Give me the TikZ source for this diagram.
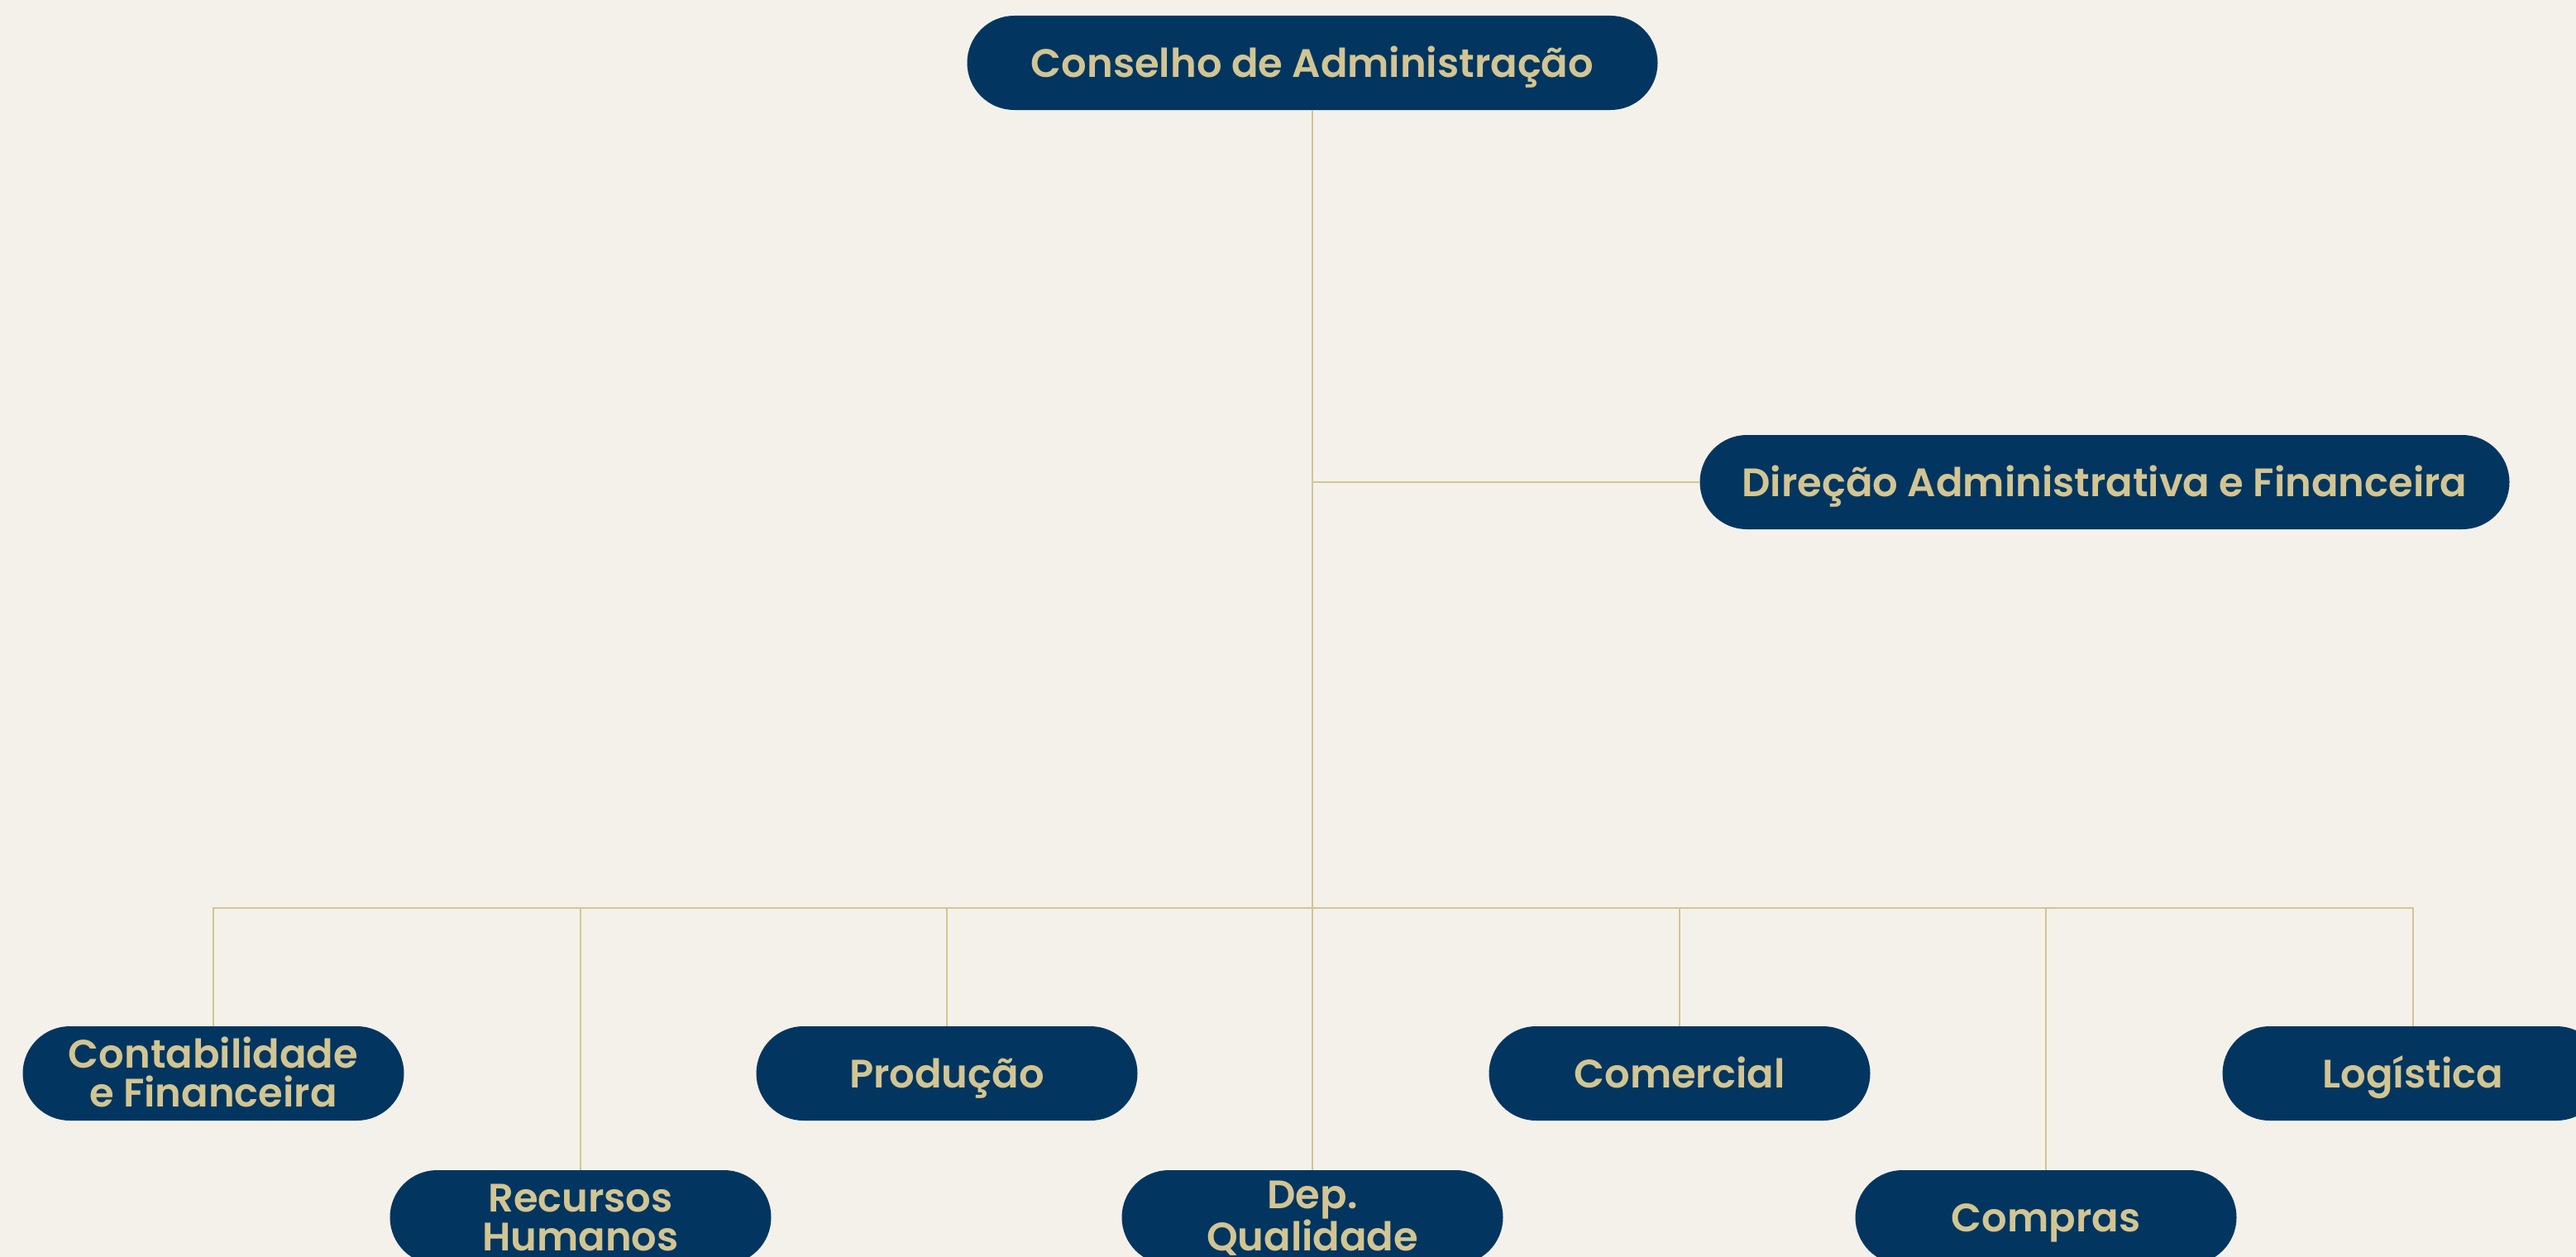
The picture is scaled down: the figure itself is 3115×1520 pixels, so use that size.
\documentclass[tikz,border=0pt]{standalone}
\usepackage{fontspec}
\setmainfont{Poppins}[UprightFont=* SemiBold, BoldFont=* Bold]
\definecolor{bg}{HTML}{F4F1EA}
\definecolor{navy}{HTML}{023660}
\definecolor{gold}{HTML}{D3C592}
\begin{document}
\begin{tikzpicture}[x=1pt,y=-1pt,
 box/.style={fill=navy, text=gold, rounded corners=57pt, minimum height=114pt, inner sep=0pt, font=\fontsize{48}{47}\selectfont, align=center},
 one/.style={text height=34pt, text depth=0pt},
 two/.style={text height=81pt, text depth=0pt},
 wide/.style={minimum width=461pt},
 link/.style={draw=gold, line width=2.5pt}]
\fill[bg] (0,0) rectangle (3115,1520);
\useasboundingbox (0,0) rectangle (3115,1520);
\node[box, one, minimum width=835pt] (ca) at (1587,76) {Conselho de Administração};
\node[box, one, minimum width=979pt] (daf) at (2545,583) {Direção Administrativa e Financeira};
\node[box,wide,two] (cf) at (258,1298) {Contabilidade\\e Financeira};
\node[box,wide,two] (rh) at (702,1472) {Recursos\\Humanos};
\node[box,wide,one] (pr) at (1145,1298) {Produção};
\node[box,wide,two] (dq) at (1587,1472) {Dep.\\Qualidade};
\node[box,wide,one] (co) at (2031,1298) {Comercial};
\node[box,wide,one] (cp) at (2474,1472) {Compras};
\node[box,wide,one] (lg) at (2918,1298) {Logística};
\coordinate (j) at (1587,583);
\coordinate (bus) at (1587,1098);
\draw[link] (ca.south) -- (dq.north);
\draw[link] (j) -- (daf.west);
\draw[link] (cf.north) |- (lg.north |- bus) -- (lg.north);
\draw[link] (rh.north) -- (rh.north |- bus);
\draw[link] (pr.north) -- (pr.north |- bus);
\draw[link] (co.north) -- (co.north |- bus);
\draw[link] (cp.north) -- (cp.north |- bus);
\end{tikzpicture}
\end{document}
